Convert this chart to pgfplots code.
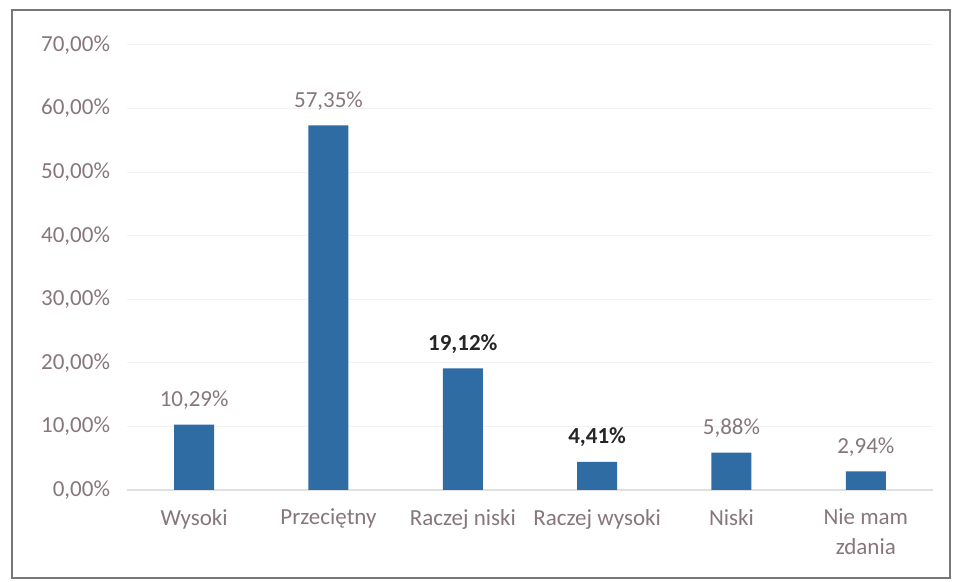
\documentclass[border=0pt]{standalone}
\usepackage{pgfplots}
\pgfplotsset{compat=1.18}
\usepackage{fontspec}
\setmainfont{Carlito}
\definecolor{barblue}{RGB}{47,108,163}
\definecolor{labgray}{RGB}{135,118,124}
\definecolor{framegray}{RGB}{120,120,120}
\begin{document}
\begin{tikzpicture}
\path[use as bounding box] (0,0) rectangle (477.5pt,291pt);
\draw[framegray, line width=1.3pt] (6pt,2pt) rectangle (475pt,286pt);
\begin{axis}[
  at={(63.5pt,46pt)}, anchor=south west,
  scale only axis, width=403pt, height=222.5pt,
  xmin=-0.5, xmax=5.5, ymin=0, ymax=70,
  ybar, bar width=20pt, bar shift=0pt,
  axis line style={draw=none},
  axis x line*=bottom,
  x axis line style={draw=black!12, line width=0.6pt},
  major tick length=0pt,
  xtick={0,1,2,3,4,5},
  xticklabels={Wysoki, Przeciętny, Raczej niski, Raczej wysoki, Niski, {Nie mam\\zdania}},
  xticklabel style={align=center, font=\fontsize{11.5}{15}\selectfont, text=labgray, yshift=-6pt},
  ytick={0,10,20,30,40,50,60,70},
  yticklabels={{0,00\%},{10,00\%},{20,00\%},{30,00\%},{40,00\%},{50,00\%},{60,00\%},{70,00\%}},
  yticklabel style={font=\fontsize{11.5}{14}\selectfont, text=labgray, xshift=-5pt},
  ymajorgrids, grid style={draw=black!5, line width=0.5pt},
  clip=false,
]
\addplot[fill=barblue, draw=none, point meta=explicit symbolic,
  nodes near coords, nodes near coords style={font=\fontsize{11.5}{14}\selectfont, text=labgray, anchor=south, yshift=4pt}]
  coordinates {(0,10.29) [10,29\%] (1,57.35) [57,35\%] (4,5.88) [5,88\%] (5,2.94) [2,94\%]};
\addplot[fill=barblue, draw=none, point meta=explicit symbolic,
  nodes near coords, nodes near coords style={font=\fontsize{11.5}{14}\selectfont\bfseries, text=black!85, anchor=south, yshift=4pt}]
  coordinates {(2,19.12) [19,12\%] (3,4.41) [4,41\%]};
\end{axis}
\end{tikzpicture}
\end{document}
